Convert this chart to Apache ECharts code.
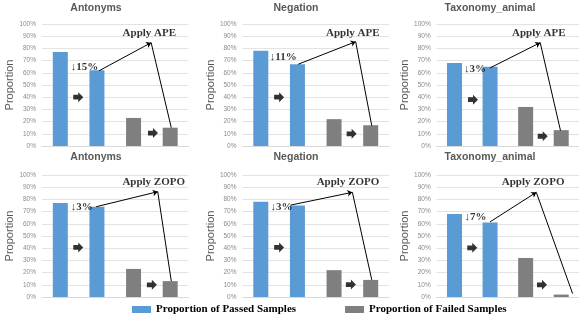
<!DOCTYPE html>
<html>
<head>
<meta charset="utf-8">
<script src="https://cdn.jsdelivr.net/npm/echarts@6/dist/echarts.min.js"></script>
<style>
html,body{margin:0;padding:0;background:#fff;}
#chart{width:579px;height:323px;}
</style>
</head>
<body>
<div id="chart"></div>
<script>
// ---- data ----
const panelTitles = ['Antonyms', 'Negation', 'Taxonomy_animal', 'Antonyms', 'Negation', 'Taxonomy_animal'];
const methodLabels = ['Apply APE', 'Apply APE', 'Apply APE', 'Apply ZOPO', 'Apply ZOPO', 'Apply ZOPO'];
const categories = ['Passed (before)', 'Passed (after)', 'Failed (before)', 'Failed (after)'];
const passedBefore = [77, 78, 68, 77, 78, 68];
const passedAfter  = [62, 67, 65, 74, 75, 61];
const failedBefore = [23, 22, 32, 23, 22, 32];
const failedAfter  = [15, 17, 13, 13, 14, 2];
const dropLabels = ['↓15%', '↓11%', '↓3%', '↓3%', '↓3%', '↓7%'];
const legendNames = ['Proportion of Passed Samples', 'Proportion of Failed Samples'];
const yTickMax = 100, yTickStep = 10;

// ---- layout (annotation placement in data space, grid boxes) ----
const annot = [
  {start:[1.06,61.7], apex:[2.48,84.7], end:[3.03,15],   text:[2.43,92.3], drop:[0.27,64.8], arrows:[[0.49,40],[2.53,10.6]]},
  {start:[1.02,67],   apex:[2.59,85.5], end:[3.03,16.6], text:[2.51,92.2], drop:[0.23,73],   arrows:[[0.50,40],[2.48,10]]},
  {start:[1.00,64],   apex:[2.41,84.7], end:[2.98,12.6], text:[2.37,92.2], drop:[0.25,63],   arrows:[[0.52,38],[2.48,8]]},
  {start:[0.98,74],   apex:[2.66,86.3], end:[3.03,13],   text:[2.55,93.8], drop:[0.27,73.7], arrows:[[0.49,40.6],[2.50,10]]},
  {start:[0.81,75.3], apex:[2.50,85.8], end:[3.03,14],   text:[2.38,93.8], drop:[0.25,73.7], arrows:[[0.50,40.6],[2.46,10.2]]},
  {start:[1.00,61.6], apex:[2.30,85.8], end:[3.32,2.8],  text:[2.21,94.2], drop:[0.27,65.5], arrows:[[0.50,40.3],[2.46,10]]}
];
const colLeft = [42, 242.5, 436.7];
const colTitleX = [96, 296, 490];
const rowTop = [24, 175];
const rowTitleTop = [3, 152];
const gridW = 146.5, gridH = 122;

const blue = '#5B9BD5', grey = '#7F7F7F';
const arrowPath = 'path://M0,2.6 L5,2.6 L5,0 L10,5 L5,10 L5,7.4 L0,7.4 Z';
const serif = "'Times New Roman', 'Liberation Serif', serif";
const sans = "'Liberation Sans', Arial, sans-serif";
const clear = 'rgba(0,0,0,0)';

const grids = [], xAxes = [], yAxes = [], series = [], titles = [];
for (let i = 0; i < 6; i++) {
  const col = i % 3, row = Math.floor(i / 3);
  grids.push({left: colLeft[col], top: rowTop[row], width: gridW, height: gridH, containLabel: false});
  titles.push({
    text: panelTitles[i], left: colTitleX[col], top: rowTitleTop[row], textAlign: 'center', padding: 0,
    textStyle: {fontFamily: sans, fontSize: 10.5, fontWeight: 'bold', color: '#595959'}
  });
  xAxes.push({
    type: 'category', gridIndex: i, data: categories,
    axisLine: {show: true, lineStyle: {color: '#d9d9d9'}}, axisTick: {show: false}, axisLabel: {show: false}
  });
  xAxes.push({
    type: 'value', gridIndex: i, min: -0.5, max: 3.5, show: false, splitLine: {show: false}
  });
  yAxes.push({
    type: 'value', gridIndex: i, min: 0, max: yTickMax, interval: yTickStep,
    name: 'Proportion', nameLocation: 'middle', nameGap: 24,
    nameTextStyle: {fontFamily: sans, fontSize: 11, color: '#595959'},
    axisLine: {show: false}, axisTick: {show: false},
    axisLabel: {formatter: '{value}%', fontFamily: sans, fontSize: 6.5, color: '#8a8a8a', margin: 6},
    splitLine: {lineStyle: {color: '#e3e3e3', width: 1}}
  });
  series.push({
    type: 'bar', name: legendNames[0], xAxisIndex: 2 * i, yAxisIndex: i, stack: 's' + i,
    barWidth: 15, itemStyle: {color: blue},
    data: [passedBefore[i], passedAfter[i], '-', '-']
  });
  series.push({
    type: 'bar', name: legendNames[1], xAxisIndex: 2 * i, yAxisIndex: i, stack: 's' + i,
    barWidth: 15, itemStyle: {color: grey},
    data: ['-', '-', failedBefore[i], failedAfter[i]]
  });
  const a = annot[i];
  series.push({
    type: 'scatter', name: 'annot' + i, xAxisIndex: 2 * i + 1, yAxisIndex: i, silent: true, z: 5,
    data: [
      {value: a.arrows[0], symbol: arrowPath, symbolSize: [10, 10], itemStyle: {color: '#000'}},
      {value: a.arrows[1], symbol: arrowPath, symbolSize: [10, 10], itemStyle: {color: '#000'}},
      {value: a.text, symbol: 'rect', symbolSize: 1, itemStyle: {color: clear},
        label: {show: true, position: 'inside', formatter: methodLabels[i],
        fontFamily: serif, fontWeight: 'bold', fontSize: 11, color: '#000'}},
      {value: a.drop, symbol: 'rect', symbolSize: 1, itemStyle: {color: clear},
        label: {show: true, position: 'right', distance: 0, formatter: dropLabels[i],
        fontFamily: serif, fontWeight: 'bold', fontSize: 11, color: '#000'}}
    ],
    markLine: {
      silent: true, animation: false, symbolSize: 5,
      lineStyle: {color: '#000', width: 1, type: 'solid'},
      label: {show: false},
      data: [
        [{coord: a.start, symbol: 'none'}, {coord: a.apex, symbol: 'arrow'}],
        [{coord: a.apex, symbol: 'none'}, {coord: a.end, symbol: 'none'}]
      ]
    }
  });
}

const chart = echarts.init(document.getElementById('chart'), null, {renderer: 'canvas'});
chart.setOption({
  animation: false,
  backgroundColor: '#fff',
  title: titles,
  grid: grids,
  xAxis: xAxes,
  yAxis: yAxes,
  legend: {
    data: legendNames, left: 132, top: 304, padding: 0, itemGap: 49,
    itemWidth: 19, itemHeight: 7, icon: 'rect', selectedMode: false,
    textStyle: {fontFamily: serif, fontWeight: 'bold', fontSize: 11, color: '#000'}
  },
  series: series
});
</script>
</body>
</html>
